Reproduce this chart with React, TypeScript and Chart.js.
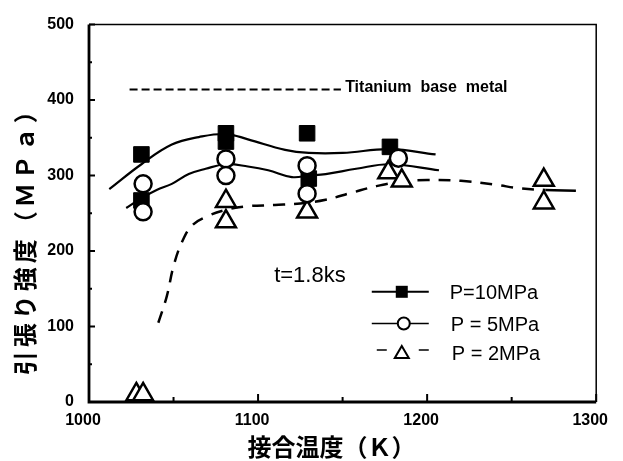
import { useEffect, useRef } from 'react';
import { Chart, registerables } from 'chart.js';

Chart.register(...registerables);

// ---- data ----
const P10_MARKERS: [number, number][] = [
  [1031, 328], [1031, 267], [1081, 356], [1081, 345], [1129, 356], [1130, 296], [1178, 338],
];
const P5_MARKERS: [number, number][] = [
  [1032, 289], [1032, 252], [1081, 322], [1081, 300], [1129, 313], [1129, 276], [1183, 323],
];
const P2_MARKERS: [number, number][] = [
  [1028, 10], [1032, 10], [1081, 266], [1081, 239], [1129, 252], [1177, 304], [1185, 293], [1269, 294], [1269, 264],
];
const P10_CURVE: [number, number][] = [
  [1012, 282], [1031, 315], [1049, 341], [1065, 351], [1081, 355], [1094, 348], [1116, 334],
  [1130, 330], [1150, 330], [1178, 335], [1205, 328],
];
const P5_CURVE: [number, number][] = [
  [1022, 257], [1031, 270], [1040, 281], [1049, 289], [1059, 302], [1069, 309], [1081, 315],
  [1094, 312], [1106, 307], [1120, 298], [1130, 300], [1140, 302], [1158, 309], [1178, 315], [1207, 307],
];
const P2_CURVE: [number, number][] = [
  [1041, 105], [1046, 140], [1050, 180], [1055, 212], [1061, 234], [1070, 246], [1080, 254],
  [1092, 259], [1110, 261], [1125, 263], [1140, 268], [1155, 277], [1170, 286], [1185, 292],
  [1200, 294], [1220, 293], [1240, 288], [1255, 283], [1270, 281], [1288, 280],
];
const BASE_METAL_X = [1024, 1149];
const BASE_METAL_VALUE = 414;

const X_TICKS = [1000, 1100, 1200, 1300];
const Y_TICKS = [0, 100, 200, 300, 400, 500];
const X_MINOR = [1050, 1150, 1250];
const Y_MINOR = [50, 150, 250, 350, 450];

const LEGEND_LABELS = ['P=10MPa', 'P = 5MPa', 'P = 2MPa'];
const LEGEND_ROWS_Y = [146, 104, 65];
const LEGEND_X = 1185;
const BASE_LABEL = 'Titanium  base  metal';
const TIME_LABEL = 't=1.8ks';
const X_TITLE = '接合温度（Ｋ）';
const Y_TITLE = '引張り強度（ＭＰａ）';

const SANS = '"Liberation Sans", Arial, sans-serif';
const CJK = '"Noto Sans CJK JP", sans-serif';

const pts = (a: [number, number][]) => a.map(([x, y]) => ({ x, y }));

function drawMarker(ctx: CanvasRenderingContext2D, kind: string, x: number, y: number) {
  ctx.save();
  ctx.lineWidth = 2;
  ctx.strokeStyle = '#000';
  ctx.beginPath();
  if (kind === 'rect') {
    ctx.fillStyle = '#000';
    ctx.rect(x - 6, y - 6, 12, 12);
    ctx.fill();
  } else if (kind === 'circle') {
    ctx.fillStyle = '#fff';
    ctx.arc(x, y, 6, 0, Math.PI * 2);
    ctx.fill();
    ctx.stroke();
  } else {
    ctx.fillStyle = '#fff';
    ctx.moveTo(x, y - 7);
    ctx.lineTo(x + 7, y + 5);
    ctx.lineTo(x - 7, y + 5);
    ctx.closePath();
    ctx.fill();
    ctx.stroke();
  }
  ctx.restore();
}

const decor = {
  id: 'decor',
  beforeDatasetsDraw(chart: any) {
    const { ctx, chartArea: a, scales } = chart;
    const xs = scales.x;
    const ys = scales.y;
    ctx.save();
    ctx.strokeStyle = '#000';
    // frame
    ctx.lineWidth = 1.5;
    ctx.beginPath();
    ctx.moveTo(a.left, a.top);
    ctx.lineTo(a.right, a.top);
    ctx.lineTo(a.right, a.bottom);
    ctx.stroke();
    ctx.lineWidth = 2.8;
    ctx.beginPath();
    ctx.moveTo(a.left, a.top);
    ctx.lineTo(a.left, a.bottom);
    ctx.lineTo(a.right, a.bottom);
    ctx.stroke();
    // inward ticks
    ctx.lineWidth = 2;
    ctx.beginPath();
    Y_TICKS.forEach((v) => {
      const y = ys.getPixelForValue(v);
      ctx.moveTo(a.left, y);
      ctx.lineTo(a.left + 6, y);
    });
    Y_MINOR.forEach((v) => {
      const y = ys.getPixelForValue(v);
      ctx.moveTo(a.left, y);
      ctx.lineTo(a.left + 3, y);
    });
    X_TICKS.forEach((v) => {
      const x = xs.getPixelForValue(v);
      ctx.moveTo(x, a.bottom);
      ctx.lineTo(x, a.bottom - 8);
    });
    X_MINOR.forEach((v) => {
      const x = xs.getPixelForValue(v);
      ctx.moveTo(x, a.bottom);
      ctx.lineTo(x, a.bottom - 5);
    });
    ctx.stroke();
    ctx.restore();
  },
  afterDatasetsDraw(chart: any) {
    const { ctx, chartArea: a, scales } = chart;
    const xs = scales.x;
    const ys = scales.y;
    ctx.save();
    ctx.fillStyle = '#000';
    ctx.textBaseline = 'middle';
    // base metal label
    ctx.font = `bold 16px ${SANS}`;
    ctx.textAlign = 'left';
    ctx.fillText(BASE_LABEL, xs.getPixelForValue(1151.5), ys.getPixelForValue(BASE_METAL_VALUE + 2.5));
    // time label
    ctx.font = `22px ${SANS}`;
    ctx.fillText(TIME_LABEL, xs.getPixelForValue(1109.5), ys.getPixelForValue(167));
    // legend
    const kinds = ['rect', 'circle', 'triangle'];
    const lx = xs.getPixelForValue(LEGEND_X);
    LEGEND_ROWS_Y.forEach((v, i) => {
      const y = ys.getPixelForValue(v);
      ctx.strokeStyle = '#000';
      ctx.lineWidth = i === 0 ? 2 : 1.5;
      ctx.beginPath();
      if (i < 2) {
        ctx.moveTo(lx - 30, y);
        ctx.lineTo(lx + 27, y);
      } else {
        ctx.moveTo(lx - 25, y - 3);
        ctx.lineTo(lx - 15, y - 3);
        ctx.moveTo(lx + 17, y - 3);
        ctx.lineTo(lx + 27, y - 3);
      }
      ctx.stroke();
      drawMarker(ctx, kinds[i], lx + (i === 1 ? 2 : 0), y);
      ctx.font = `20px ${SANS}`;
      ctx.fillStyle = '#000';
      ctx.textAlign = 'left';
      ctx.fillText(LEGEND_LABELS[i], lx + 48 + i, y + 2);
    });
    // axis titles
    ctx.font = `bold 24px ${CJK}`;
    ctx.textAlign = 'center';
    ctx.fillText(X_TITLE, (a.left + a.right) / 2 - 11, a.bottom + 45);
    ctx.save();
    ctx.translate(25, (a.top + a.bottom) / 2 + 22);
    ctx.rotate(-Math.PI / 2);
    try { (ctx as any).letterSpacing = '4px'; } catch (e) { /* ignore */ }
    ctx.fillText(Y_TITLE, 0, 0);
    ctx.restore();
    ctx.restore();
  },
};

export default function App() {
  const ref = useRef<HTMLCanvasElement>(null);
  useEffect(() => {
    document.body.style.margin = '0';
    const chart = new Chart(ref.current as HTMLCanvasElement, {
      type: 'scatter',
      data: {
        datasets: [
          {
            label: 'P=5MPa',
            data: pts(P5_MARKERS),
            pointStyle: 'circle',
            pointRadius: 8.5,
            backgroundColor: '#fff',
            borderColor: '#000',
            borderWidth: 2.5,
            order: 0,
          },
          {
            label: 'P=10MPa',
            data: pts(P10_MARKERS),
            pointStyle: 'rect',
            pointRadius: 11,
            backgroundColor: '#000',
            borderColor: '#000',
            borderWidth: 1,
            order: 1,
          },
          {
            label: 'P=2MPa',
            data: pts(P2_MARKERS),
            pointStyle: 'triangle',
            pointRadius: 11.5,
            backgroundColor: '#fff',
            borderColor: '#000',
            borderWidth: 2.5,
            order: 2,
          },
          {
            label: 'P=10MPa curve',
            data: pts(P10_CURVE),
            showLine: true,
            pointRadius: 0,
            borderColor: '#000',
            borderWidth: 2.2,
            tension: 0.4,
            order: 5,
          },
          {
            label: 'P=5MPa curve',
            data: pts(P5_CURVE),
            showLine: true,
            pointRadius: 0,
            borderColor: '#000',
            borderWidth: 2.2,
            tension: 0.4,
            order: 5,
          },
          {
            label: 'P=2MPa curve',
            data: pts(P2_CURVE),
            showLine: true,
            pointRadius: 0,
            borderColor: '#000',
            borderWidth: 2.5,
            borderDash: [12, 9],
            tension: 0.4,
            segment: {
              borderDash: (c: any) => (c.p0.parsed.x >= 1268 ? [] : undefined),
            },
            order: 5,
          },
          {
            label: 'Titanium base metal',
            data: BASE_METAL_X.map((x) => ({ x, y: BASE_METAL_VALUE })),
            showLine: true,
            pointRadius: 0,
            borderColor: '#000',
            borderWidth: 2.2,
            borderDash: [8, 4],
            order: 5,
          },
        ],
      },
      options: {
        responsive: false,
        animation: false,
        events: [],
        layout: { padding: { left: 0, right: 21, top: 13, bottom: 0 } },
        plugins: { legend: { display: false }, tooltip: { enabled: false } },
        scales: {
          x: {
            type: 'linear',
            min: 1000,
            max: 1300,
            afterFit: (s: any) => { s.height = 59; },
            afterBuildTicks: (s: any) => { s.ticks = X_TICKS.map((v) => ({ value: v })); },
            grid: { display: false, drawTicks: false },
            border: { display: false },
            ticks: {
              padding: 9,
              labelOffset: -6,
              color: '#000',
              callback: (v: any) => String(v),
              font: { family: SANS, size: 16, weight: 'bold' },
            },
          },
          y: {
            type: 'linear',
            min: 0,
            max: 500,
            afterFit: (s: any) => { s.width = 89; },
            afterBuildTicks: (s: any) => { s.ticks = Y_TICKS.map((v) => ({ value: v })); },
            grid: { display: false, drawTicks: false },
            border: { display: false },
            ticks: {
              padding: 15,
              color: '#000',
              callback: (v: any) => String(v),
              font: { family: SANS, size: 16, weight: 'bold' },
            },
          },
        },
      } as any,
      plugins: [decor],
    });
    return () => chart.destroy();
  }, []);
  return (
    <div style={{ width: 623, height: 461 }}>
      <canvas ref={ref} width={623} height={461} style={{ display: 'block' }} />
    </div>
  );
}
